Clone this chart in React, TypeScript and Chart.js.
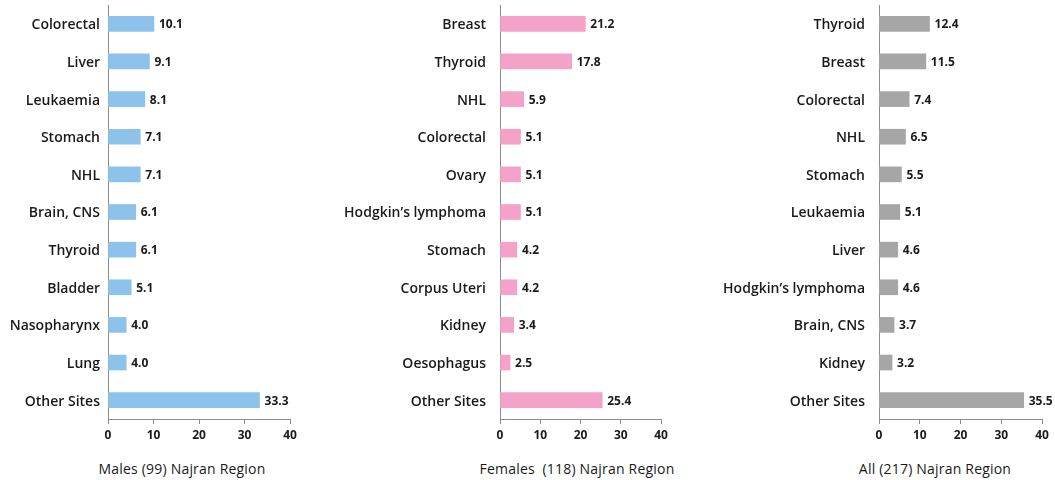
import React, { useEffect, useRef } from "react";
import { Chart, registerables } from "chart.js";

Chart.register(...registerables);

const maleSites = ["Colorectal", "Liver", "Leukaemia", "Stomach", "NHL", "Brain, CNS", "Thyroid", "Bladder", "Nasopharynx", "Lung", "Other Sites"];
const maleValues = [10.1, 9.1, 8.1, 7.1, 7.1, 6.1, 6.1, 5.1, 4.0, 4.0, 33.3];

const femaleSites = ["Breast", "Thyroid", "NHL", "Colorectal", "Ovary", "Hodgkin\u2019s lymphoma", "Stomach", "Corpus Uteri", "Kidney", "Oesophagus", "Other Sites"];
const femaleValues = [21.2, 17.8, 5.9, 5.1, 5.1, 5.1, 4.2, 4.2, 3.4, 2.5, 25.4];

const allSites = ["Thyroid", "Breast", "Colorectal", "NHL", "Stomach", "Leukaemia", "Liver", "Hodgkin\u2019s lymphoma", "Brain, CNS", "Kidney", "Other Sites"];
const allValues = [12.4, 11.5, 7.4, 6.5, 5.5, 5.1, 4.6, 4.6, 3.7, 3.2, 35.5];

const xTicks = [0, 10, 20, 30, 40];

const titles = ["Males (99) Najran Region", "Females  (118) Najran Region", "All (217) Najran Region"];

const FONT = "'Open Sans', sans-serif";

const valueLabels = {
  id: "valueLabels",
  afterDatasetsDraw(chart: any) {
    const ctx = chart.ctx;
    const meta = chart.getDatasetMeta(0);
    const data = chart.data.datasets[0].data;
    ctx.save();
    ctx.font = `700 12px ${FONT}`;
    ctx.fillStyle = "#1a1a1a";
    ctx.textAlign = "left";
    ctx.textBaseline = "middle";
    meta.data.forEach((bar: any, i: number) => {
      ctx.fillText(Number(data[i]).toFixed(1), bar.x + 5, bar.y + 1);
    });
    ctx.restore();
  },
};

type PanelProps = {
  labels: string[];
  values: number[];
  color: string;
  left: number;
  width: number;
  yWidth: number;
  yPad: number;
  padRight: number;
  title: string;
  titleCenter: number;
};

function Panel(p: PanelProps) {
  const ref = useRef<HTMLCanvasElement>(null);
  useEffect(() => {
    if (!ref.current) return;
    const chart = new Chart(ref.current, {
      type: "bar",
      data: {
        labels: p.labels,
        datasets: [
          {
            data: p.values,
            backgroundColor: p.color,
            barThickness: 15,
            borderWidth: 0,
          },
        ],
      },
      options: {
        indexAxis: "y",
        animation: false,
        responsive: false,
        maintainAspectRatio: false,
        layout: { padding: { top: 5, bottom: 5, left: 0, right: p.padRight } },
        plugins: { legend: { display: false }, tooltip: { enabled: false }, title: { display: false } },
        scales: {
          x: {
            min: 0,
            max: 40,
            afterBuildTicks: (scale: any) => {
              scale.ticks = xTicks.map((v) => ({ value: v }));
            },
            afterFit: (scale: any) => {
              scale.height = 26;
              scale.paddingLeft = 0;
              scale.paddingRight = 0;
            },
            grid: { drawOnChartArea: false, drawTicks: true, tickLength: 5, color: "#8c8c8c" },
            border: { display: true, color: "#8c8c8c", width: 1 },
            ticks: { font: { family: FONT, size: 12, weight: "bold" }, color: "#1a1a1a", padding: 4, maxRotation: 0 },
          },
          y: {
            afterFit: (scale: any) => {
              scale.width = p.yWidth;
              scale.paddingTop = 0;
              scale.paddingBottom = 0;
            },
            grid: { drawOnChartArea: false, drawTicks: false },
            border: { display: true, color: "#8c8c8c", width: 1 },
            ticks: { font: { family: FONT, size: 14, weight: 600 }, color: "#1a1a1a", padding: p.yPad, labelOffset: 1.5 },
          },
        },
      },
      plugins: [valueLabels],
    } as any);
    return () => chart.destroy();
  }, []);
  return (
    <>
      <canvas
        ref={ref}
        width={p.width}
        height={450}
        style={{ position: "absolute", left: p.left, top: 0, width: p.width, height: 450 }}
      />
      <div
        style={{
          position: "absolute",
          top: 460,
          left: p.titleCenter - 150,
          width: 300,
          textAlign: "center",
          fontFamily: FONT,
          fontSize: 14,
          letterSpacing: "0.2px",
          color: "#1a1a1a",
          lineHeight: "18px",
          whiteSpace: "pre",
        }}
      >
        {p.title}
      </div>
    </>
  );
}

export default function App() {
  return (
    <div style={{ position: "fixed", left: 0, top: 0, width: 1055, height: 480, background: "#fff", overflow: "hidden" }}>
      <Panel labels={maleSites} values={maleValues} color="#8DC3EA" left={0} width={300} yWidth={108} yPad={8} padRight={10} title={titles[0]} titleCenter={182} />
      <Panel labels={femaleSites} values={femaleValues} color="#F4A2C7" left={330} width={350} yWidth={170} yPad={14} padRight={19} title={titles[1]} titleCenter={577} />
      <Panel labels={allSites} values={allValues} color="#A6A6A6" left={710} width={345} yWidth={169} yPad={14} padRight={13} title={titles[2]} titleCenter={935} />
    </div>
  );
}
